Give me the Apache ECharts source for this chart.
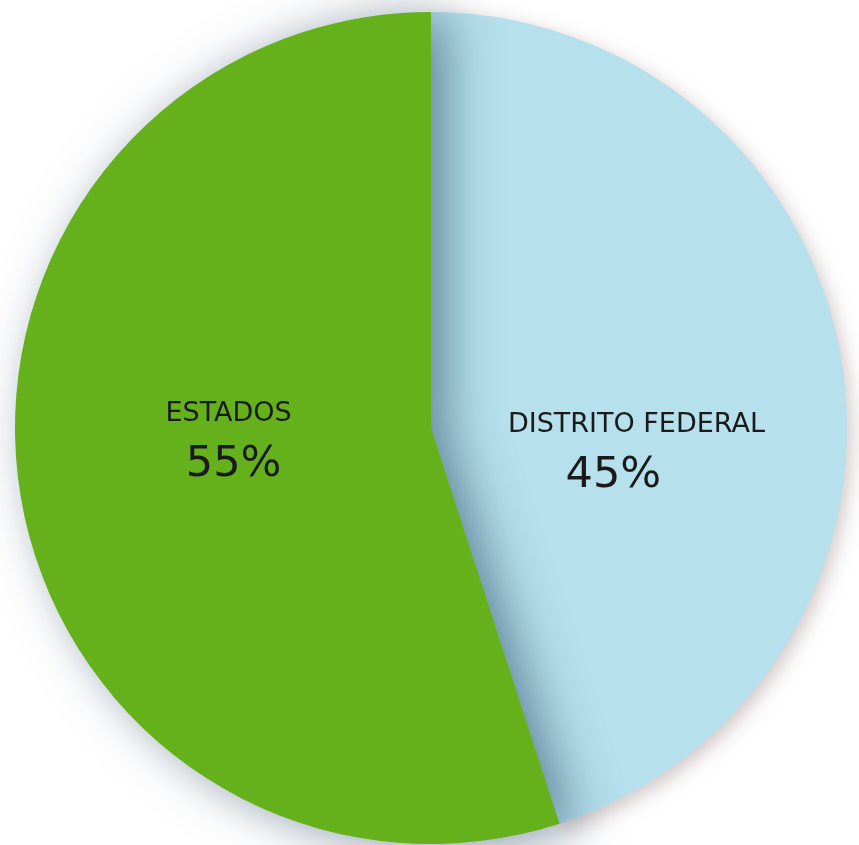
<!DOCTYPE html>
<html>
<head>
<meta charset="utf-8">
<script src="https://cdn.jsdelivr.net/npm/echarts@6/dist/echarts.min.js"></script>
<style>
  html, body { margin: 0; padding: 0; background: #ffffff; }
  #chart { width: 859px; height: 845px; }
</style>
</head>
<body>
<div id="chart"></div>
<script>
// Share of the total by destination
const categories = ['DISTRITO FEDERAL', 'ESTADOS'];
const shares = [45, 55];
const sliceColors = ['#b6e0ec', '#64b11c'];

// Per-slice label placement and slice shading
const labelOffsets = [[-3, 58], [6, -19]];
const percentPadding = [[0, 46, 0, 0], [0, 0, 0, 10]];
const sliceShadows = [
  { shadowColor: 'rgba(120,90,90,0.35)', shadowBlur: 20, shadowOffsetX: 4, shadowOffsetY: 6 },
  { shadowColor: 'rgba(20,50,80,0.5)', shadowBlur: 50, shadowOffsetX: 16, shadowOffsetY: 4 }
];

const textColor = '#1a1a1a';
const chart = echarts.init(document.getElementById('chart'), null, { renderer: 'canvas' });

const data = categories.map((name, i) => ({
  name: name,
  value: shares[i],
  itemStyle: Object.assign({ color: sliceColors[i] }, sliceShadows[i]),
  label: {
    offset: labelOffsets[i],
    rich: {
      n: { fontFamily: 'DejaVu Sans', fontSize: 27, color: textColor, lineHeight: 46, align: 'center' },
      p: { fontFamily: 'DejaVu Sans', fontSize: 43, color: textColor, lineHeight: 56, align: 'center', padding: percentPadding[i] }
    }
  }
}));

chart.setOption({
  animation: false,
  backgroundColor: '#ffffff',
  series: [{
    type: 'pie',
    center: [431, 428],
    radius: [0, 416],
    startAngle: 90,
    clockwise: true,
    data: data,
    label: {
      show: true,
      position: 'inside',
      formatter: p => '{n|' + p.name + '}\n{p|' + p.value + '%}'
    },
    labelLine: { show: false },
    emphasis: { disabled: true }
  }]
});
</script>
</body>
</html>
